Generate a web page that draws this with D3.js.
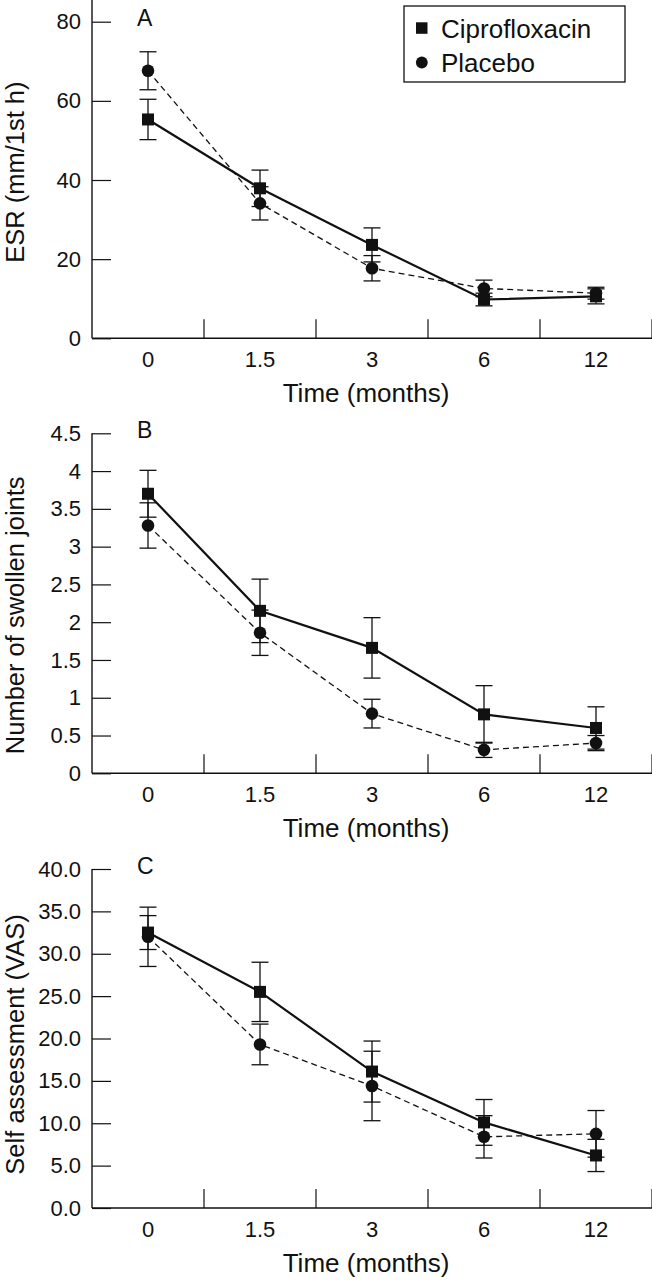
<!DOCTYPE html>
<html>
<head>
<meta charset="utf-8">
<script src="https://cdn.jsdelivr.net/npm/d3@7"></script>
<style>
  html, body { margin: 0; padding: 0; background: #fff; }
  svg { display: block; font-family: "Liberation Sans", Arial, Helvetica, sans-serif; }
</style>
</head>
<body>
<svg id="chart" width="652" height="1280"></svg>
<script>
// ---------- DATA ----------
const months = ["0", "1.5", "3", "6", "12"];
const seriesNames = ["Ciprofloxacin", "Placebo"];

// Panel A: ESR (mm/1st h)
const esrCipro      = [55.3, 37.9, 23.6, 9.8, 10.6];
const esrCiproErr   = [5.1, 4.6, 4.3, 1.6, 1.9];
const esrPlacebo    = [67.6, 34.1, 17.7, 12.6, 11.4];
const esrPlaceboErr = [4.8, 4.2, 3.2, 2.1, 1.5];
const esrTicks      = [0, 20, 40, 60, 80];

// Panel B: Number of swollen joints
const jointsCipro      = [3.70, 2.15, 1.66, 0.78, 0.60];
const jointsCiproErr   = [0.31, 0.42, 0.40, 0.38, 0.28];
const jointsPlacebo    = [3.28, 1.86, 0.79, 0.31, 0.40];
const jointsPlaceboErr = [0.30, 0.30, 0.19, 0.10, 0.10];
const jointsTicks      = [0, 0.5, 1, 1.5, 2, 2.5, 3, 3.5, 4, 4.5];

// Panel C: Self assessment (VAS)
const vasCipro      = [32.5, 25.5, 16.1, 10.1, 6.2];
const vasCiproErr   = [2.0, 3.5, 3.6, 2.7, 1.9];
const vasPlacebo    = [32.0, 19.3, 14.4, 8.4, 8.75];
const vasPlaceboErr = [3.5, 2.4, 4.1, 2.5, 2.75];
const vasTicks      = [0, 5, 10, 15, 20, 25, 30, 35, 40];

// ---------- DRAWING ----------
const svg = d3.select("#chart");
const ink = "#111";
const font = "Liberation Sans, Arial, sans-serif";

const x = d3.scaleBand().domain(months).range([92, 652]).padding(0);
const bw = x.bandwidth();
const cx = m => x(m) + bw / 2;

const panels = [
  { letter: "A", title: "ESR (mm/1st h)", cipro: esrCipro, ciproErr: esrCiproErr,
    placebo: esrPlacebo, placeboErr: esrPlaceboErr, ticks: esrTicks, fmt: d3.format("d"),
    y0: 338.3, yTop: 21.7, axisTop: 0, titleShift: 3 },
  { letter: "B", title: "Number of swollen joints", cipro: jointsCipro, ciproErr: jointsCiproErr,
    placebo: jointsPlacebo, placeboErr: jointsPlaceboErr, ticks: jointsTicks, fmt: d => String(d),
    y0: 773.3, yTop: 433.3, axisTop: null, titleShift: 12 },
  { letter: "C", title: "Self assessment (VAS)", cipro: vasCipro, ciproErr: vasCiproErr,
    placebo: vasPlacebo, placeboErr: vasPlaceboErr, ticks: vasTicks, fmt: d3.format(".1f"),
    y0: 1208, yTop: 869, axisTop: null, titleShift: 6 }
];

panels.forEach(p => {
  const g = svg.append("g");
  const maxT = d3.max(p.ticks);
  const y = d3.scaleLinear().domain([0, maxT]).range([p.y0, p.yTop]);

  // y axis
  const yAx = g.append("g").attr("transform", "translate(92,0)")
    .call(d3.axisLeft(y).tickValues(p.ticks).tickFormat(p.fmt).tickSize(-19).tickSizeOuter(0).tickPadding(11));
  yAx.select(".domain").remove();
  yAx.selectAll(".tick line").attr("stroke", ink).attr("stroke-width", 1.2);
  yAx.selectAll(".tick text").attr("fill", ink).attr("font-size", 22).attr("font-family", font);
  g.append("line").attr("x1", 92).attr("x2", 92)
    .attr("y1", p.y0).attr("y2", p.axisTop === null ? y(maxT) : p.axisTop)
    .attr("stroke", ink).attr("stroke-width", 1.4);

  // x axis
  g.append("line").attr("x1", 92).attr("x2", 652).attr("y1", p.y0).attr("y2", p.y0)
    .attr("stroke", ink).attr("stroke-width", 1.4);
  g.selectAll(".xt").data(months).enter().append("line")
    .attr("x1", m => x(m) + bw).attr("x2", m => x(m) + bw)
    .attr("y1", p.y0).attr("y2", p.y0 - 19)
    .attr("stroke", ink).attr("stroke-width", 1.2);
  g.selectAll(".xl").data(months).enter().append("text")
    .attr("x", m => cx(m)).attr("y", p.y0 + 28.5)
    .attr("text-anchor", "middle").attr("font-size", 22).attr("fill", ink).attr("font-family", font)
    .text(m => m);
  g.append("text").attr("x", 366).attr("y", p.y0 + 64)
    .attr("text-anchor", "middle").attr("font-size", 26).attr("fill", ink).attr("font-family", font)
    .text("Time (months)");

  // y title
  const tc = (p.y0 + (p.axisTop === null ? y(maxT) : p.axisTop)) / 2 + p.titleShift;
  g.append("text").attr("transform", `translate(23.5,${tc}) rotate(-90)`)
    .attr("text-anchor", "middle").attr("font-size", 25.5).attr("fill", ink).attr("font-family", font)
    .text(p.title);

  // panel letter
  g.append("text").attr("x", 137).attr("y", y(maxT) + 4.5)
    .attr("font-size", 23).attr("fill", ink).attr("font-family", font).text(p.letter);

  const groups = [
    { vals: p.cipro, errs: p.ciproErr, dash: null, sw: 2.2, shape: "square" },
    { vals: p.placebo, errs: p.placeboErr, dash: "6,4", sw: 1.3, shape: "circle" }
  ];

  // error bars
  groups.forEach(s => {
    const eb = g.append("g");
    months.forEach((m, i) => {
      const hi = y(s.vals[i] + s.errs[i]), lo = y(s.vals[i] - s.errs[i]);
      eb.append("line").attr("x1", cx(m)).attr("x2", cx(m)).attr("y1", hi).attr("y2", lo)
        .attr("stroke", ink).attr("stroke-width", 1.3);
      [hi, lo].forEach(v => eb.append("line").attr("x1", cx(m) - 8.5).attr("x2", cx(m) + 8.5)
        .attr("y1", v).attr("y2", v).attr("stroke", ink).attr("stroke-width", 1.3));
    });
  });

  // lines
  groups.forEach(s => {
    const line = d3.line().x((d, i) => cx(months[i])).y(d => y(d));
    g.append("path").datum(s.vals).attr("d", line).attr("fill", "none")
      .attr("stroke", ink).attr("stroke-width", s.sw)
      .attr("stroke-dasharray", s.dash);
  });

  // markers
  groups.forEach(s => {
    months.forEach((m, i) => {
      if (s.shape === "square") {
        g.append("rect").attr("x", cx(m) - 6).attr("y", y(s.vals[i]) - 6)
          .attr("width", 12).attr("height", 12).attr("fill", ink);
      } else {
        g.append("circle").attr("cx", cx(m)).attr("cy", y(s.vals[i])).attr("r", 6.3).attr("fill", ink);
      }
    });
  });
});

// legend
const lg = svg.append("g");
lg.append("rect").attr("x", 404).attr("y", 6).attr("width", 221).attr("height", 76)
  .attr("fill", "#fff").attr("stroke", ink).attr("stroke-width", 1.3);
lg.append("rect").attr("x", 416).attr("y", 22.3).attr("width", 11.5).attr("height", 11.5).attr("fill", ink);
lg.append("circle").attr("cx", 421.8).attr("cy", 62.5).attr("r", 5.9).attr("fill", ink);
lg.selectAll(".lt").data(seriesNames).enter().append("text")
  .attr("x", 441).attr("y", (d, i) => 37.5 + i * 34)
  .attr("font-size", 26).attr("fill", ink).attr("font-family", font)
  .text(d => d);
</script>
</body>
</html>
